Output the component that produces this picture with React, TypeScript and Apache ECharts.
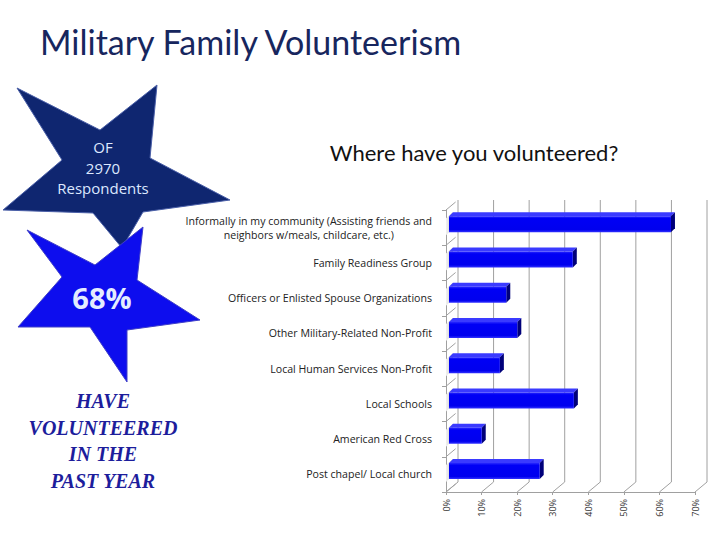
import React, { useEffect, useRef } from "react";
import * as echarts from "echarts";

const categories = [
  "Informally in my community (Assisting friends and\nneighbors w/meals, childcare, etc.)",
  "Family Readiness Group",
  "Officers or Enlisted Spouse Organizations",
  "Other Military-Related Non-Profit",
  "Local Human Services Non-Profit",
  "Local Schools",
  "American Red Cross",
  "Post chapel/ Local church",
];
const percentValues = [62.4, 34.8, 16.1, 19.2, 14.3, 35.1, 9.2, 25.5];
const xTicks = [0, 10, 20, 30, 40, 50, 60, 70];

const titleText = "Military Family Volunteerism";
const subtitleText = "Where have you volunteered?";
const starTopLines = ["OF", "2970", "Respondents"];
const starBigText = "68%";
const haveLines = ["HAVE", "VOLUNTEERED", "IN THE", "PAST YEAR"];

const DX = 12; // 3D depth x
const DY = -10; // 3D depth y

export default function App() {
  const ref = useRef<HTMLDivElement>(null);
  useEffect(() => {
    if (!ref.current) return;
    const chart = echarts.init(ref.current, null, { renderer: "svg" });

    const frameSeries = {
      type: "custom",
      silent: true,
      z: 1,
      data: [[0, 0]],
      renderItem: (params: any, api: any) => {
        const cs = params.coordSys;
        const bottom = cs.y + cs.height;
        const top = cs.y;
        const children: any[] = [];
        const lineStyle = { stroke: "#a0a0a0", lineWidth: 1 };
        xTicks.forEach((t) => {
          const x = api.coord([t, 0])[0];
          children.push({
            type: "polyline",
            shape: { points: [[x, bottom], [x + DX, bottom + DY], [x + DX, top + DY]] },
            style: { ...lineStyle, fill: null },
          });
        });
        const n = categories.length;
        for (let i = 0; i <= n; i++) {
          const y = top + (cs.height * i) / n;
          children.push({
            type: "line",
            shape: { x1: cs.x, y1: y, x2: cs.x + DX * 0.8, y2: y + DY * 0.8 },
            style: lineStyle,
          });
        }
        return { type: "group", children };
      },
    };

    const barSeries = {
      type: "custom",
      z: 3,
      encode: { x: 0, y: 1 },
      data: percentValues.map((v, i) => [v, i]),
      renderItem: (params: any, api: any) => {
        const cs = params.coordSys;
        const v = api.value(0);
        const c = api.value(1);
        const s = api.coord([0, c]);
        const e = api.coord([v, c]);
        const h = 16;
        const ox = 3;
        const oy = -3.5;
        const x0 = s[0] + ox;
        const x1 = e[0] + ox;
        const y0 = s[1] + oy - h / 2;
        const dx = 4;
        const dy = -4;
        return {
          type: "group",
          children: [
            {
              type: "polygon",
              shape: {
                points: [
                  [cs.x, y0 + h + 3],
                  [cs.x, y0 + 2],
                  [x0 + dx, y0 + dy],
                  [x0 + dx, y0 + h + dy],
                ],
              },
              style: {
                fill: new echarts.graphic.LinearGradient(0, 0, 1, 0, [
                  { offset: 0, color: "#f2f2f2" },
                  { offset: 1, color: "#c4c4c4" },
                ]),
              },
            },
            {
              type: "polygon",
              shape: { points: [[x0, y0], [x0 + dx, y0 + dy], [x1 + dx, y0 + dy], [x1, y0]] },
              style: { fill: "#3a3aff" },
            },
            {
              type: "polygon",
              shape: { points: [[x1, y0], [x1 + dx, y0 + dy], [x1 + dx, y0 + h + dy], [x1, y0 + h]] },
              style: { fill: "#00007a" },
            },
            {
              type: "rect",
              shape: { x: x0, y: y0, width: x1 - x0, height: h },
              style: {
                fill: new echarts.graphic.LinearGradient(0, 0, 0, 1, [
                  { offset: 0, color: "#2b2bff" },
                  { offset: 0.15, color: "#0000f5" },
                  { offset: 0.85, color: "#0000ee" },
                  { offset: 1, color: "#3030ff" },
                ]),
              },
            },
          ],
        };
      },
    };

    const star1 = [
      [17, 88], [100, 130], [157, 85], [150, 158], [230, 200],
      [143, 212], [122, 248], [93, 213], [3, 210], [62, 160],
    ];
    const star2 = [
      [27, 230], [95, 265], [143, 227], [137, 280], [200, 320],
      [127, 330], [127, 382], [90, 327], [18, 327], [62, 277],
    ];

    chart.setOption({
      animation: false,
      backgroundColor: "#ffffff",
      grid: { left: 446, right: 25, top: 210, bottom: 48, containLabel: false },
      xAxis: {
        type: "value",
        min: 0,
        max: 70,
        interval: 10,
        axisLine: { show: true, lineStyle: { color: "#a0a0a0" } },
        axisTick: { show: true, length: 3, lineStyle: { color: "#a0a0a0" } },
        splitLine: { show: false },
        axisLabel: {
          rotate: 90,
          fontSize: 9,
          color: "#333",
          margin: 7,
          fontFamily: "Open Sans",
          formatter: "{value}%",
        },
      },
      yAxis: {
        type: "category",
        data: categories,
        inverse: true,
        axisLine: { show: true, lineStyle: { color: "#a0a0a0" } },
        axisTick: { show: true, length: 4, lineStyle: { color: "#a0a0a0" } },
        axisLabel: {
          fontSize: 10.6,
          color: "#222",
          margin: 14,
          fontFamily: "Open Sans",
          lineHeight: 14,
          formatter: (val: string) =>
            val.indexOf("\n") >= 0
              ? val
                  .split("\n")
                  .map((l) => "{c|" + l + "}")
                  .join("\n")
              : val,
          rich: {
            c: { align: "center", fontSize: 10.6, color: "#222", fontFamily: "Open Sans", lineHeight: 14 },
          },
        },
      },
      graphic: [
        {
          type: "text",
          z: 10,
          style: {
            text: titleText,
            x: 40,
            y: 41,
            fill: "#17265e",
            font: "34px Lato",
            textVerticalAlign: "middle",
          },
        },
        {
          type: "text",
          z: 10,
          style: {
            text: subtitleText,
            x: 474,
            y: 152,
            fill: "#111",
            font: "22px Lato",
            textAlign: "center",
            textVerticalAlign: "middle",
          },
        },
        {
          type: "polygon",
          z: 5,
          shape: { points: star1 },
          style: { fill: "#0f2670", stroke: "#4a5fa8", lineWidth: 1 },
        },
        {
          type: "polygon",
          z: 6,
          shape: { points: star2 },
          style: { fill: "#0d0dee", stroke: "#3f3fc8", lineWidth: 1 },
        },
        ...starTopLines.map((t, i) => ({
          type: "text",
          z: 7,
          style: {
            text: t,
            x: 103,
            y: 147 + i * 20.5,
            fill: "#dde8ff",
            font: "15px 'Open Sans'",
            textAlign: "center",
            textVerticalAlign: "middle",
          },
        })),
        {
          type: "text",
          z: 7,
          style: {
            text: starBigText,
            x: 102,
            y: 297,
            fill: "#e4ecff",
            font: "bold 29px 'Open Sans'",
            textAlign: "center",
            textVerticalAlign: "middle",
          },
        },
        ...haveLines.map((t, i) => ({
          type: "text",
          z: 7,
          style: {
            text: t,
            x: 103,
            y: 401 + i * 26.5,
            fill: "#1d1d9c",
            font: "italic bold 20px 'Liberation Serif'",
            textAlign: "center",
            textVerticalAlign: "middle",
          },
        })),
      ],
      series: [frameSeries, barSeries],
    });
    return () => chart.dispose();
  }, []);
  return (
    <div
      ref={ref}
      style={{ position: "fixed", left: 0, top: 0, width: 720, height: 540 }}
    />
  );
}
